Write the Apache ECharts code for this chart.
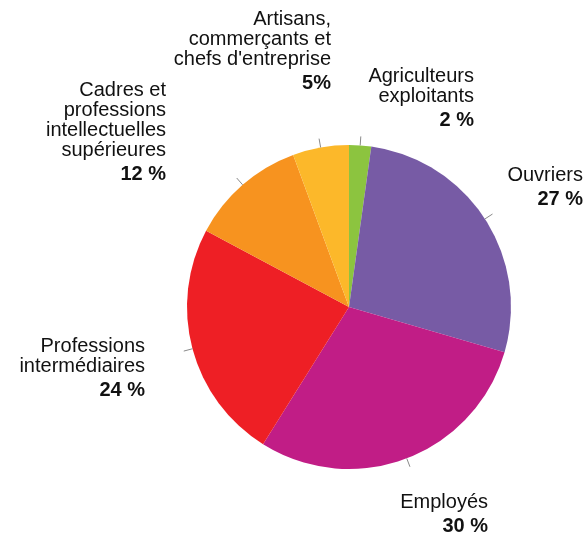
<!DOCTYPE html>
<html>
<head>
<meta charset="utf-8">
<script src="https://cdn.jsdelivr.net/npm/echarts@6/dist/echarts.min.js"></script>
<style>
html,body{margin:0;padding:0;background:#fff;}
#chart{width:587px;height:536px;}
</style>
</head>
<body>
<div id="chart"></div>
<script>
var categories = [
  "Agriculteurs\nexploitants",
  "Ouvriers",
  "Employés",
  "Professions\nintermédiaires",
  "Cadres et\nprofessions\nintellectuelles\nsupérieures",
  "Artisans,\ncommerçants et\nchefs d'entreprise"
];
var values = [2.2, 27.3, 29.4, 23.9, 11.6, 5.6];
var percentLabels = ["2 %", "27 %", "30 %", "24 %", "12 %", "5%"];
var colors = ["#8cc43f", "#775ba5", "#c11d86", "#ee1f25", "#f7931f", "#fcb82a"];

// label anchor (right edge, top) per slice, in px
var labelAnchors = [
  [474, 66],
  [583, 165],
  [488, 492],
  [145, 336],
  [166, 80],
  [331, 9]
];

var chart = echarts.init(document.getElementById('chart'), null, {renderer: 'canvas'});

var pieData = categories.map(function (c, i) {
  return { name: c, value: values[i], itemStyle: { color: colors[i] } };
});

var FONT = '"Liberation Sans", Arial, Helvetica, sans-serif';

chart.setOption({
  animation: false,
  backgroundColor: '#ffffff',
  series: [
    {
      type: 'pie',
      center: [349, 307],
      radius: 162,
      startAngle: 90,
      clockwise: true,
      silent: true,
      avoidLabelOverlap: false,
      itemStyle: { borderWidth: 0 },
      data: pieData,
      label: {
        show: true,
        position: 'outside',
        color: '#111',
        fontFamily: FONT,
        fontSize: 20,
        lineHeight: 20,
        align: 'right',
        formatter: function (p) {
          return p.name + '\n{b|' + percentLabels[p.dataIndex] + '}';
        },
        rich: {
          b: { fontFamily: FONT, fontSize: 20, fontWeight: 'bold', lineHeight: 28, color: '#111' }
        }
      },
      labelLine: { show: false },
      labelLayout: function (params) {
        var a = labelAnchors[params.dataIndex];
        return { x: a[0], y: a[1], align: 'right', verticalAlign: 'top' };
      },
      emphasis: { disabled: true }
    },
    {
      type: 'pie',
      center: [349, 307],
      radius: 162,
      startAngle: 90,
      clockwise: true,
      silent: true,
      avoidLabelOverlap: false,
      z: 3,
      itemStyle: { color: 'rgba(0,0,0,0)', borderWidth: 0 },
      data: categories.map(function (c, i) { return { name: c, value: values[i] }; }),
      label: { show: true, position: 'outside', formatter: ' ', fontSize: 4 },
      labelLine: { show: true, length: 9, length2: 0, smooth: false, lineStyle: { color: '#8a8a8a', width: 1 } },
      emphasis: { disabled: true }
    }
  ]
});
</script>
</body>
</html>
